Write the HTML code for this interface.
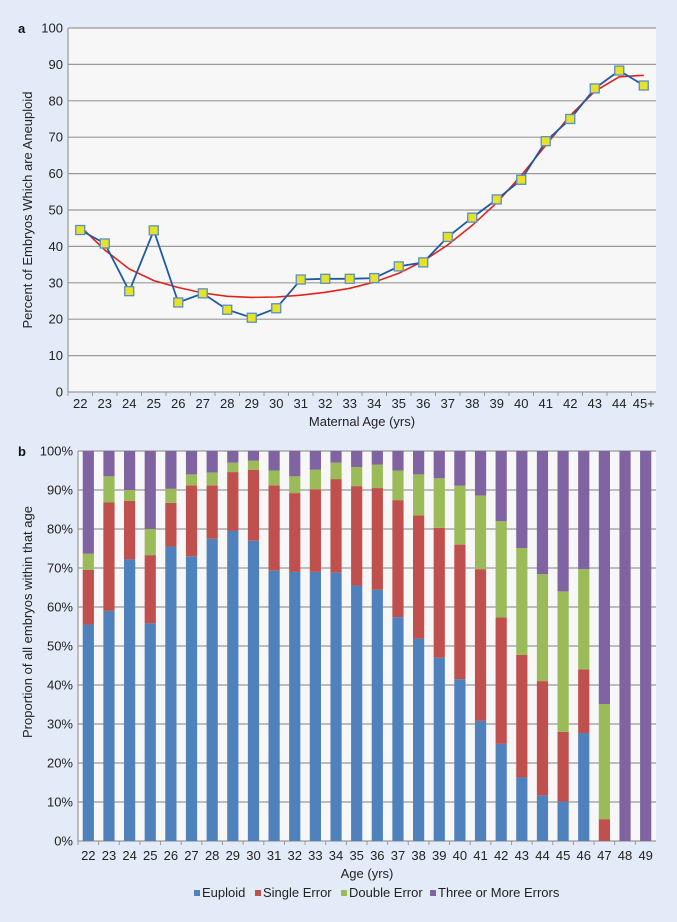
<!DOCTYPE html>
<html><head><meta charset="utf-8"><style>
html,body{margin:0;padding:0;background:#e4ebf8;}
svg{display:block;font-family:"Liberation Sans",sans-serif;}
</style></head><body>
<svg id="fig" width="677" height="922" viewBox="0 0 677 922">
<rect x="0" y="0" width="677" height="922" fill="#e4ebf8"/>
<g id="chartA"></g>
<g id="chartB"></g>
</svg>
<script>
const ageLabelsA = ["22","23","24","25","26","27","28","29","30","31","32","33","34","35","36","37","38","39","40","41","42","43","44","45+"];
const aneuploidPct = [44.5,40.8,27.7,44.4,24.6,27.1,22.6,20.4,23.0,30.9,31.1,31.1,31.3,34.5,35.6,42.6,47.9,52.9,58.3,68.9,75.0,83.4,88.3,84.2];
const trendPct = [45.5,39,33.8,30.6,28.7,27.2,26.3,26,26.1,26.6,27.4,28.5,30.2,32.6,36,40.4,45.8,52,59.5,67.8,76,82.6,86.6,87];
const yTicksA = [0,10,20,30,40,50,60,70,80,90,100];

const ageLabelsB = ["22","23","24","25","26","27","28","29","30","31","32","33","34","35","36","37","38","39","40","41","42","43","44","45","46","47","48","49"];
const euploid = [55.5,59,72.2,55.8,75.5,73,77.5,79.5,77,69.3,69,69,68.8,65.5,64.4,57.4,51.9,47,41.5,30.8,24.9,16.3,11.7,10.1,27.7,0,0,0];
const singleErr = [14,27.8,15,17.5,11.2,18.2,13.7,15.1,18.2,21.9,20.2,21.2,24,25.5,26.1,30,31.6,33.3,34.5,38.9,32.4,31.4,29.3,17.9,16.3,5.6,0,0];
const doubleErr = [4.2,6.7,2.8,6.7,3.6,2.8,3.3,2.4,2.3,3.8,4.3,5,4.2,4.9,6,7.6,10.5,12.7,15.1,18.9,24.7,27.4,27.4,36,25.7,29.5,0,0];
const yTicksB = [0,10,20,30,40,50,60,70,80,90,100];

const NS="http://www.w3.org/2000/svg";
function mk(parent,tag,attrs){const e=document.createElementNS(NS,tag);for(const k in attrs)e.setAttribute(k,attrs[k]);parent.appendChild(e);return e;}

// Chart A
(function(){
const g=document.getElementById('chartA');
const L=68,R=656,T=28,B=392;
const bw=(R-L)/ageLabelsA.length;
const xA=i=>L+bw*(i+0.5);
const yA=v=>B-(v/100)*(B-T);
const bg=mk(g,'rect',{x:L,y:T,width:R-L,height:B-T,fill:'#f7f7f7'});


yTicksA.forEach(t=>{
 const l=mk(g,'line',{x1:L,x2:R,y1:yA(t),y2:yA(t),stroke:'#999',"stroke-width":1.2});
 
 
 const tx=mk(g,'text',{x:L-5,y:yA(t)+4.5,"text-anchor":"end","font-size":13,fill:'#222'});tx.textContent=t;
 
 
});
mk(g,'line',{x1:L,x2:L,y1:T,y2:B,stroke:'#999',"stroke-width":1.2});
ageLabelsA.forEach((a,i)=>{
 mk(g,'line',{x1:L+bw*i,x2:L+bw*i,y1:B,y2:B+4,stroke:'#999'});
 const tx=mk(g,'text',{x:xA(i),y:B+16,"text-anchor":"middle","font-size":13,fill:'#222'});tx.textContent=a;
 
 
});
const a=mk(g,'text',{x:18,y:33,"font-size":13,"font-weight":"bold",fill:'#111'});a.textContent='a';


const yt=mk(g,'text',{transform:'translate(32,210) rotate(-90)',"text-anchor":"middle","font-size":13,fill:'#222'});yt.textContent='Percent of Embryos Which are Aneuploid';


const xt=mk(g,'text',{x:(L+R)/2,y:426,"text-anchor":"middle","font-size":13,fill:'#222'});xt.textContent='Maternal Age (yrs)';


// trend
let d='';trendPct.forEach((v,i)=>{d+=(i?' L':'M')+xA(i).toFixed(1)+','+yA(v).toFixed(1);});
const tr=mk(g,'path',{d:d,fill:'none',stroke:'#e0231c',"stroke-width":1.6});


let d2='';aneuploidPct.forEach((v,i)=>{d2+=(i?' L':'M')+xA(i).toFixed(1)+','+yA(v).toFixed(1);});
const ln=mk(g,'path',{d:d2,fill:'none',stroke:'#1f5aa6',"stroke-width":1.8});


aneuploidPct.forEach((v,i)=>{
 const m=mk(g,'rect',{x:xA(i)-4.5,y:yA(v)-4.5,width:9,height:9,fill:'#e6e22a',stroke:'#5b8fc4',"stroke-width":1.3});
 
 
});
})();

// Chart B
(function(){
const g=document.getElementById('chartB');
const L=78,R=656,T=451,B=841;
const bw=(R-L)/ageLabelsB.length;
const xB=i=>L+bw*(i+0.5);
const yB=v=>B-(v/100)*(B-T);
const bg=mk(g,'rect',{x:L,y:T,width:R-L,height:B-T,fill:'#f7f7f7'});


yTicksB.forEach(t=>{
 const l=mk(g,'line',{x1:L,x2:R,y1:yB(t),y2:yB(t),stroke:'#999',"stroke-width":1.2});
 
 
 const tx=mk(g,'text',{x:L-5,y:yB(t)+4.5,"text-anchor":"end","font-size":13,fill:'#222'});tx.textContent=t+'%';
 
 
});
mk(g,'line',{x1:L,x2:L,y1:T,y2:B,stroke:'#999',"stroke-width":1.2});
const cols=['#4f81bd','#c0504d','#9bbb59','#8064a2'];
ageLabelsB.forEach((a,i)=>{
 mk(g,'line',{x1:L+bw*i,x2:L+bw*i,y1:B,y2:B+4,stroke:'#999'});
 const tx=mk(g,'text',{x:xB(i),y:B+19,"text-anchor":"middle","font-size":13,fill:'#222'});tx.textContent=a;
 
 
 const e=euploid[i],s=singleErr[i],dd=doubleErr[i],th=Math.max(0,100-e-s-dd);
 const segs=[[0,e],[e,s],[e+s,dd],[e+s+dd,th]];
 const names=['bar-euploid','bar-single-error','bar-double-error','bar-three-or-more'];
 segs.forEach((sg,k)=>{
  if(sg[1]<=0)return;
  const r=mk(g,'rect',{x:xB(i)-5.6,y:yB(sg[0]+sg[1]),width:11.2,height:yB(sg[0])-yB(sg[0]+sg[1]),fill:cols[k]});
  
  
 });
});
const b=mk(g,'text',{x:18,y:456,"font-size":13,"font-weight":"bold",fill:'#111'});b.textContent='b';


const yt=mk(g,'text',{transform:'translate(32,622) rotate(-90)',"text-anchor":"middle","font-size":13,fill:'#222'});yt.textContent='Proportion of all embryos within that age';


const xt=mk(g,'text',{x:367,y:878,"text-anchor":"middle","font-size":13,fill:'#222'});xt.textContent='Age (yrs)';


const leg=[['Euploid',194],['Single Error',255],['Double Error',341],['Three or More Errors',430]];
leg.forEach((l,k)=>{
 const sq=mk(g,'rect',{x:l[1],y:890,width:6,height:6,fill:cols[k]});
 
 
 const t=mk(g,'text',{x:l[1]+8,y:897,"font-size":13,fill:'#222'});t.textContent=l[0];
 
 
});
})();
</script>
</body></html>
